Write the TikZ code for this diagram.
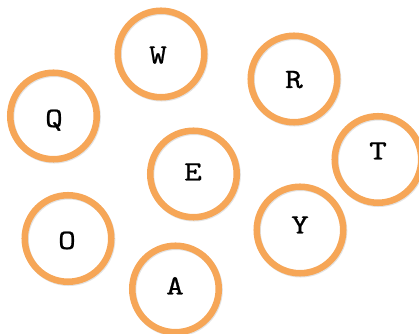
\documentclass[tikz,border=0pt]{standalone}
\usepackage{fontspec}
\newfontfamily\heavytt{lmmono10-regular.otf}[FakeBold=0.8,FakeStretch=1.2]
\begin{document}
\begin{tikzpicture}[x=0.75pt,y=-0.75pt,
  ring/.style={circle,draw=ringorange,line width=4.9pt,minimum size=86.5*0.75pt,inner sep=0pt},
  ringshadow/.style={circle,draw=black!22,line width=4.9pt,minimum size=86.5*0.75pt,inner sep=0pt},
  letter/.style={anchor=base,inner sep=0pt,font=\fontsize{21}{21}\selectfont\heavytt}]
\definecolor{ringorange}{RGB}{246,166,87}
\useasboundingbox (0,0) rectangle (419,334);
\foreach \n/\x/\y in {W/161/54,R/294/79,E/193.5/174,T/378/159.5,Y/300/230,A/175.5/289,Q/53.5/116,O/68/238.5}{
  \node[ringshadow,opacity=0.5] (s\n) at (\x+0.8,\y+1) {};
}
\node[ring] (cW) at (161,54) {};
\node[ring] (cR) at (294,79) {};
\node[ring] (cE) at (193.5,174) {};
\node[ring] (cT) at (378,159.5) {};
\node[ring] (cY) at (300,230) {};
\node[ring] (cA) at (175.5,289) {};
\node[ring] (cQ) at (53.5,116) {};
\node[ring] (cO) at (68,238.5) {};
\node[letter] (W) at (158,63.5) {W};
\node[letter] (R) at (294,88) {R};
\node[letter] (E) at (193,180.5) {E};
\node[letter] (T) at (378,159.5) {T};
\node[letter] (Y) at (300,233.5) {Y};
\node[letter] (A) at (175,294.5) {A};
\node[letter] (Q) at (54,127) {Q};
\node[letter] (O) at (67,249) {O};
\end{tikzpicture}
\end{document}
